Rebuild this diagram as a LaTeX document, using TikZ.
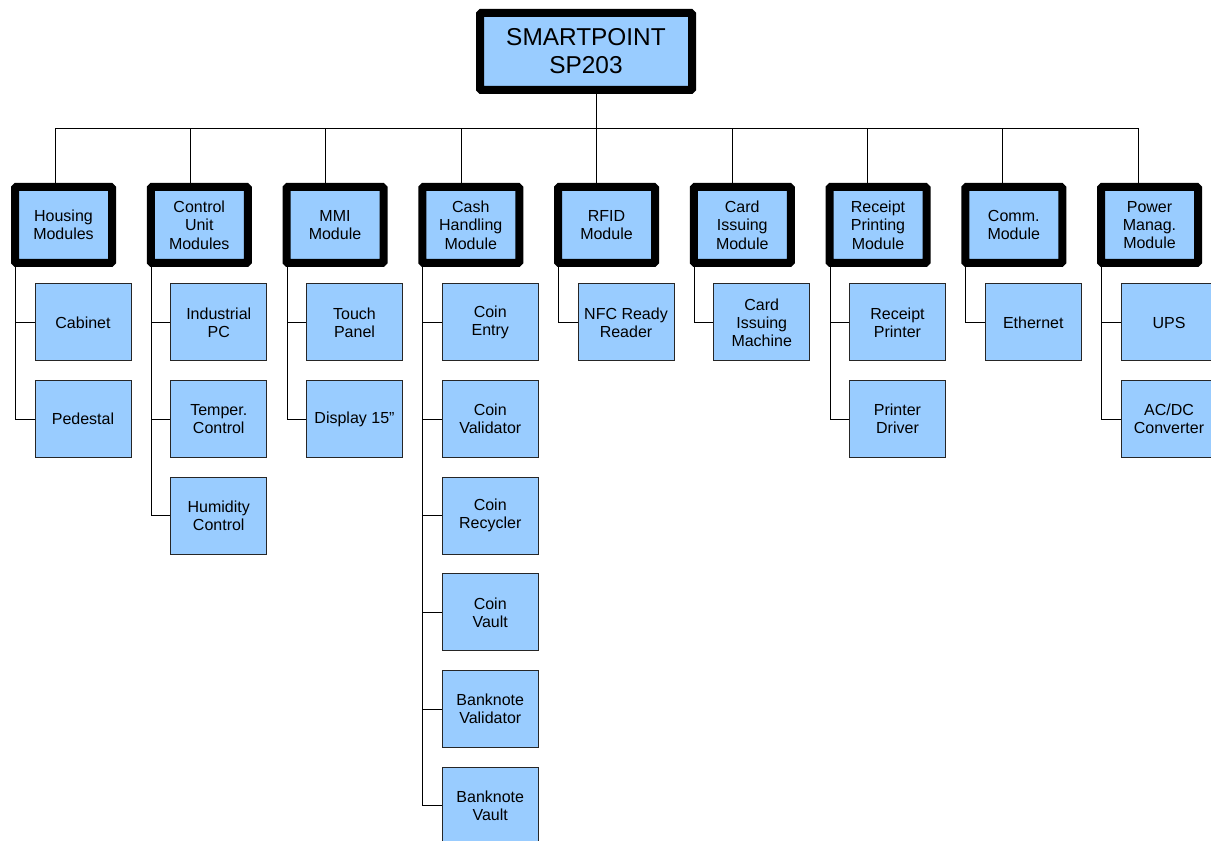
\documentclass[tikz,border=0pt]{standalone}
\usepackage{fontspec}
\setmainfont{Liberation Sans}
\definecolor{boxblue}{RGB}{153,204,255}
\tikzset{
  topbox/.style={draw=black, fill=boxblue, line width=6pt, rounded corners=1pt,
    minimum width=159pt, minimum height=57.75pt, align=center,
    font=\fontsize{18.3}{21}\selectfont, inner sep=0pt},
  modbox/.style={draw=black, fill=boxblue, line width=6pt, rounded corners=1pt,
    minimum width=72.75pt, minimum height=57pt, align=center,
    font=\fontsize{12}{13.8}\selectfont, inner sep=0pt},
  kidbox/.style={draw=black!85, fill=boxblue, line width=0.75pt,
    minimum width=72pt, minimum height=57.75pt, align=center,
    font=\fontsize{12}{13.5}\selectfont, inner sep=0pt},
  conn/.style={draw=black, line width=0.6pt}
}
\newcommand\mkmod[3]{%
  \pgfmathsetmacro\mL{11+135.75*(#1-1)}%
  \pgfmathsetmacro\mC{55+135.4*(#1-1)}%
  \node[modbox] (m#1) at (\mL+52.5,225) {#2};
  \coordinate (k#1) at (\mC,128);
  \draw[conn] (m#1.north -| k#1) -- (k#1);
  \foreach \t [count=\j] in {#3} {
    \node[kidbox] (c#1-\j) at (\mL+72, {322.5+96.6*(\j-1)}) {\t};
    \draw[conn] ([xshift=3.3pt]m#1.south west) |- (c#1-\j.west);
  }%
}
\begin{document}
\begin{tikzpicture}[x=0.75pt,y=-0.75pt]
\useasboundingbox (0,0) rectangle (1211,841);
\clip (0,0) rectangle (1211,841);
\node[topbox] (top) at (586,51.5) {SMARTPOINT\\SP203};
\coordinate (bus) at (596,128);
\draw[conn] (top.south -| bus) -- (bus);
\mkmod{1}{Housing\\Modules}{Cabinet, Pedestal}
\mkmod{2}{Control\\Unit\\Modules}{Industrial\\PC, Temper.\\Control, Humidity\\Control}
\mkmod{3}{MMI\\Module}{Touch\\Panel, Display 15”}
\mkmod{4}{Cash\\Handling\\Module}{Coin\\Entry, Coin\\Validator, Coin\\Recycler, Coin\\Vault, Banknote\\Validator, Banknote\\Vault}
\mkmod{5}{RFID\\Module}{NFC Ready\\Reader}
\mkmod{6}{Card\\Issuing\\Module}{Card\\Issuing\\Machine}
\mkmod{7}{Receipt\\Printing\\Module}{Receipt\\Printer, Printer\\Driver}
\mkmod{8}{Comm.\\Module}{Ethernet}
\mkmod{9}{Power\\Manag.\\Module}{UPS, AC/DC\\Converter}
\draw[conn] (k1) -- (k9);
\end{tikzpicture}
\end{document}
